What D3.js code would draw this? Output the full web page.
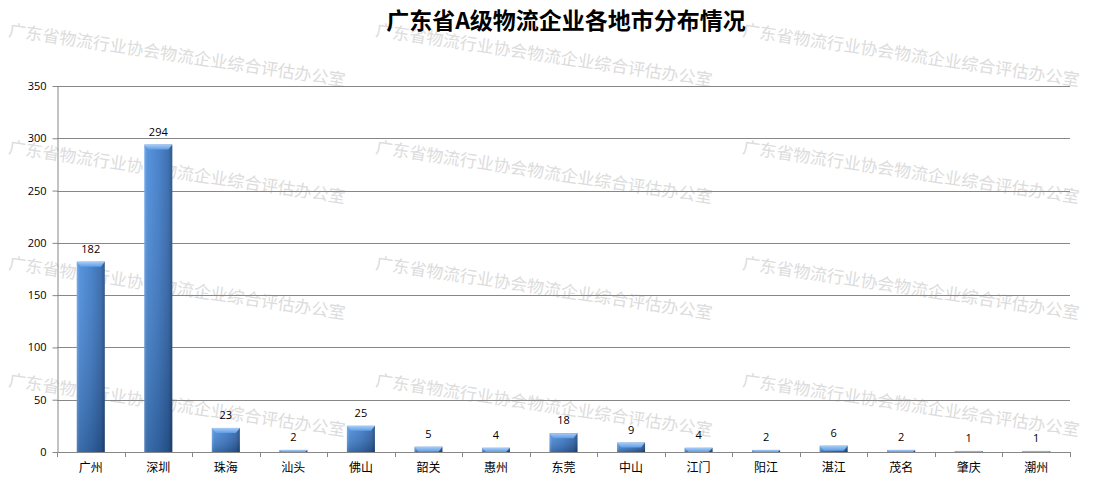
<!DOCTYPE html>
<html>
<head>
<meta charset="utf-8">
<script src="https://cdn.jsdelivr.net/npm/d3@7/dist/d3.min.js"></script>
<style>
  html, body { margin: 0; padding: 0; background: #fff; }
  svg { display: block; }
</style>
</head>
<body>
<svg id="chart" width="1097" height="489"></svg>
<script>
// Number of A-grade logistics enterprises per city in Guangdong
const cities = ["广州", "深圳", "珠海", "汕头", "佛山", "韶关", "惠州", "东莞", "中山", "江门", "阳江", "湛江", "茂名", "肇庆", "潮州"];
const counts = [182, 294, 23, 2, 25, 5, 4, 18, 9, 4, 2, 6, 2, 1, 1];
const yTicks = [0, 50, 100, 150, 200, 250, 300, 350];
const chartTitle = "广东省A级物流企业各地市分布情况";
const stampText = "广东省物流行业协会物流企业综合评估办公室";

const W = 1097, H = 489;
const m = { left: 57, right: 1070, top: 86, bottom: 452 };

const svg = d3.select("#chart");
const defs = svg.append("defs");

// bar face: lit on the left, shaded on the right
const face = defs.append("linearGradient").attr("id", "barFace")
  .attr("x1", 0).attr("y1", 0).attr("x2", 1).attr("y2", 0);
[["0%", "#6aa6ec"], ["10%", "#4a8ad8"], ["50%", "#3c7ac8"], ["86%", "#2f64aa"], ["100%", "#1f4a80"]]
  .forEach(([o, c]) => face.append("stop").attr("offset", o).attr("stop-color", c));

// vertical darkening toward the base
const shade = defs.append("linearGradient").attr("id", "barShade")
  .attr("x1", 0).attr("y1", 0).attr("x2", 0).attr("y2", 1);
shade.append("stop").attr("offset", "0%").attr("stop-color", "#ffffff").attr("stop-opacity", 0.08);
shade.append("stop").attr("offset", "100%").attr("stop-color", "#000000").attr("stop-opacity", 0.22);

// bevelled cap
const cap = defs.append("linearGradient").attr("id", "barCap")
  .attr("x1", 0).attr("y1", 0).attr("x2", 0).attr("y2", 1);
cap.append("stop").attr("offset", "0%").attr("stop-color", "#a9cdf5");
cap.append("stop").attr("offset", "100%").attr("stop-color", "#5f9de6");

// background stamp text, repeated (bottom row runs off the page edge)
const stamp = svg.append("g").attr("class", "stamp");
const stampCols = [8, 375, 742];
const stampRows = [36, 153, 269, 386, 502];
stampRows.forEach(ry => stampCols.forEach(cx => {
  stamp.append("text")
    .attr("transform", `translate(${cx},${ry}) rotate(8.5)`)
    .attr("font-family", "'Noto Sans CJK SC', sans-serif")
    .attr("font-size", 17)
    .attr("font-weight", "normal")
    .attr("fill", "#dcdcdc")
    .text(stampText);
}));

const x = d3.scaleBand().domain(cities).range([m.left, m.right])
  .paddingInner(0.585).paddingOuter(0.2925);
const y = d3.scaleLinear().domain([0, 350]).range([m.bottom, m.top]);

// horizontal gridlines
svg.append("g").selectAll("line").data(yTicks.filter(t => t > 0)).join("line")
  .attr("x1", m.left).attr("x2", m.right)
  .attr("y1", d => Math.round(y(d)) + 0.5).attr("y2", d => Math.round(y(d)) + 0.5)
  .attr("stroke", "#878787").attr("stroke-width", 1);

// y axis
const yAxis = svg.append("g").attr("transform", `translate(${m.left + 0.5},0)`)
  .call(d3.axisLeft(y).tickValues(yTicks).tickSize(5).tickSizeOuter(0).tickPadding(6));
yAxis.select(".domain").attr("stroke", "#878787");
yAxis.selectAll(".tick line").attr("stroke", "#878787");
yAxis.selectAll(".tick text")
  .attr("font-family", "'Open Sans', 'DejaVu Sans', sans-serif")
  .attr("font-size", 11).attr("fill", "#000");

// bars
const bars = svg.append("g").selectAll("g").data(cities).join("g");
bars.append("rect")
  .attr("x", d => x(d)).attr("width", x.bandwidth())
  .attr("y", (d, i) => y(counts[i])).attr("height", (d, i) => y(0) - y(counts[i]))
  .attr("fill", "url(#barFace)");
bars.append("rect")
  .attr("x", d => x(d)).attr("width", x.bandwidth())
  .attr("y", (d, i) => y(counts[i])).attr("height", (d, i) => y(0) - y(counts[i]))
  .attr("fill", "url(#barShade)");
bars.append("path")
  .attr("d", (d, i) => {
    const x0 = x(d), x1 = x0 + x.bandwidth();
    const top = y(counts[i]);
    const h = Math.min(5, y(0) - top);
    const inset = Math.min(4, h);
    return `M${x0},${top}L${x1},${top}L${x1 - inset},${top + h}L${x0 + inset},${top + h}Z`;
  })
  .attr("fill", "url(#barCap)");

// value labels
svg.append("g").selectAll("text").data(cities).join("text")
  .attr("x", d => x(d) + x.bandwidth() / 2)
  .attr("y", (d, i) => y(counts[i]) - 9)
  .attr("text-anchor", "middle")
  .attr("font-family", "'Open Sans', 'DejaVu Sans', sans-serif")
  .attr("font-size", 11).attr("fill", "#000")
  .text((d, i) => counts[i]);

// x axis line with ticks on category boundaries
const xg = svg.append("g");
xg.append("line")
  .attr("x1", m.left).attr("x2", m.right)
  .attr("y1", m.bottom + 0.5).attr("y2", m.bottom + 0.5)
  .attr("stroke", "#878787");
const step = x.step();
xg.selectAll("line.tk").data(d3.range(cities.length + 1)).join("line").attr("class", "tk")
  .attr("x1", i => Math.round(m.left + i * step) + 0.5)
  .attr("x2", i => Math.round(m.left + i * step) + 0.5)
  .attr("y1", m.bottom).attr("y2", m.bottom + 5)
  .attr("stroke", "#878787");
xg.selectAll("text").data(cities).join("text")
  .attr("x", d => x(d) + x.bandwidth() / 2)
  .attr("y", m.bottom + 20)
  .attr("text-anchor", "middle")
  .attr("font-family", "'Noto Sans CJK SC', sans-serif")
  .attr("font-size", 12).attr("fill", "#000")
  .text(d => d);

// title
svg.append("text")
  .attr("x", 566).attr("y", 29)
  .attr("text-anchor", "middle")
  .attr("font-family", "'Noto Sans CJK SC', sans-serif")
  .attr("font-size", 23).attr("font-weight", "bold").attr("fill", "#000")
  .text(chartTitle);
</script>
</body>
</html>
